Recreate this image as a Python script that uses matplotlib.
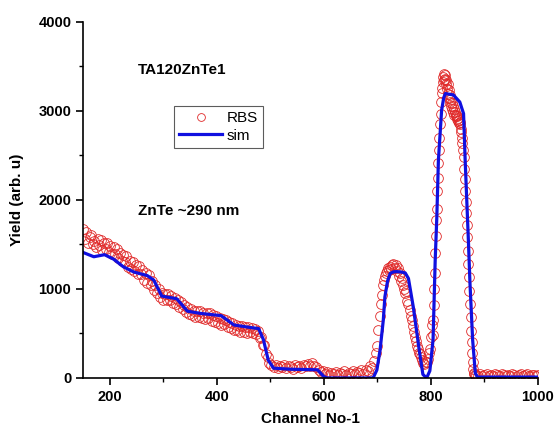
import numpy as np
import matplotlib.pyplot as plt

plt.rcParams['font.family'] = ['Liberation Sans', 'DejaVu Sans']

# RBS spectrum (channel grid per region, yields typed)
ch_a = np.arange(150, 499, 3)
y_a = [1670, 1560, 1635, 1515, 1585, 1610, 1500, 1540, 1475, 1565,
       1490, 1545, 1440, 1520, 1450, 1520, 1420, 1480, 1390, 1470,
       1390, 1450, 1345, 1405, 1310, 1385, 1300, 1365, 1250, 1310,
       1220, 1300, 1205, 1265, 1165, 1260, 1170, 1210, 1100, 1180,
       1070, 1160, 1045, 1085, 990, 1040, 955, 995, 915, 960,
       880, 945, 878, 942, 876, 920, 845, 898, 835, 875,
       800, 858, 775, 825, 740, 795, 720, 778, 710, 755,
       680, 747, 684, 751, 678, 725, 662, 728, 674, 728,
       640, 702, 633, 693, 615, 670, 594, 658, 602, 646,
       570, 631, 562, 613, 536, 600, 534, 589, 516, 583,
       520, 577, 504, 571, 518, 565, 502, 548, 490, 525,
       450, 460, 370, 370, 270, 240, 165]

ch_b = np.arange(502, 699, 4)
y_b = [150, 125, 150, 110, 140, 120, 150, 115, 140, 125,
       105, 145, 120, 135, 110, 150, 130, 160, 135, 165,
       140, 120, 95, 70, 75, 45, 65, 35, 55, 40,
       70, 30, 55, 45, 75, 35, 60, 50, 80, 40,
       65, 55, 85, 50, 90, 75, 130, 110, 190, 280]

ch_c = np.arange(700, 803, 2)
y_c = [360, 540, 700, 830, 930, 1040, 1100, 1150, 1180, 1200,
       1230, 1210, 1250, 1220, 1270, 1280, 1240, 1270, 1200, 1230,
       1150, 1180, 1090, 1120, 1040, 1000, 950, 980, 860, 830,
       760, 700, 650, 580, 520, 460, 410, 360, 320, 280,
       270, 230, 200, 170, 160, 180, 175, 210, 280, 320,
       460, 600]

ch_d = np.arange(803, 883, 1)
y_d = [480, 650, 820, 1000, 1180, 1400, 1600, 1780, 1900, 2100,
       2250, 2420, 2560, 2700, 2850, 2970, 3100, 3200, 3260, 3330,
       3380, 3350, 3420, 3360, 3400, 3300, 3350, 3250, 3300, 3190,
       3230, 3150, 3180, 3100, 3130, 3060, 3090, 3020, 3050, 2990,
       3020, 2960, 2990, 2940, 2960, 2910, 2940, 2890, 2920, 2870,
       2900, 2850, 2880, 2800, 2760, 2700, 2640, 2560, 2480, 2350,
       2230, 2100, 1980, 1850, 1720, 1580, 1430, 1280, 1130, 980,
       830, 680, 530, 400, 280, 180, 100, 60, 40, 30]

ch_e = np.arange(884, 1001, 4)
y_e = [35, 25, 40, 20, 30, 45, 25, 35, 20, 40,
       30, 25, 45, 30, 20, 35, 25, 40, 30, 20,
       35, 45, 25, 30, 40, 20, 35, 30, 25, 35]

rbs_ch = np.concatenate([ch_a, ch_b, ch_c, ch_d, ch_e])
rbs_y = np.concatenate([y_a, y_b, y_c, y_d, y_e])

# simulation curve
sim_ch = [150, 170, 190, 207, 225, 245, 270, 282, 297, 325,
          345, 370, 408, 432, 465, 478, 487, 496, 506, 537,
          588, 600, 606, 692, 699, 705, 711, 714, 719, 724,
          730, 736, 745, 752, 758, 767, 778, 785, 792, 798,
          804, 808, 811, 814, 820, 824, 827, 842, 854, 861,
          864, 870, 873, 878, 883, 887, 1000]
sim_y = [1410, 1362, 1385, 1335, 1250, 1190, 1150, 1100, 920, 890,
         750, 725, 700, 595, 565, 555, 430, 200, 110, 98,
         92, 15, 0, 0, 90, 314, 650, 912, 1090, 1175,
         1192, 1195, 1190, 1180, 1118, 800, 320, 40, 0, 80,
         430, 1324, 1800, 2447, 3008, 3150, 3195, 3180, 3100, 2970,
         2447, 1549, 1063, 426, 53, 10, 10]

fig = plt.figure(figsize=(5.54, 4.30), dpi=100)
ax = fig.add_axes([0.150, 0.121, 0.821, 0.828])

ax.plot(rbs_ch, rbs_y, 'o', ms=7, mfc='none', mec='#e02828', mew=0.6,
        label='RBS')
ax.plot(sim_ch, sim_y, '-', color='#1010e0', lw=2.3, label='sim')

ax.set_xlim(150, 1000)
ax.set_ylim(0, 4000)
ax.set_xticks([200, 400, 600, 800, 1000])
ax.set_xticks([300, 500, 700, 900], minor=True)
ax.set_yticks([0, 1000, 2000, 3000, 4000])
ax.set_yticks([500, 1500, 2500, 3500], minor=True)
ax.spines['top'].set_visible(False)
ax.spines['right'].set_visible(False)
for s in ('left', 'bottom'):
    ax.spines[s].set_linewidth(1.2)
ax.tick_params(which='major', direction='out', length=5, width=1.2,
               labelsize=10.5)
ax.tick_params(which='minor', direction='out', length=3, width=1.0)
for lab in ax.get_xticklabels() + ax.get_yticklabels():
    lab.set_fontweight('bold')

ax.set_xlabel('Channel No-1', fontsize=11, fontweight='bold', labelpad=6)
ax.set_ylabel('Yield (arb. u)', fontsize=11, fontweight='bold', labelpad=10)

ax.text(0.120, 0.865, 'TA120ZnTe1', transform=ax.transAxes,
        fontsize=11, fontweight='bold', va='center')
ax.text(0.120, 0.470, 'ZnTe ~290 nm', transform=ax.transAxes,
        fontsize=11, fontweight='bold', va='center')

leg = ax.legend(loc='upper left', bbox_to_anchor=(0.200, 0.765),
                fontsize=11, frameon=True, fancybox=False, markerscale=0.8,
                handlelength=2.8, borderpad=0.35, labelspacing=0.25,
                handletextpad=0.3, borderaxespad=0)
leg.get_frame().set_edgecolor('#333333')
leg.get_frame().set_linewidth(0.8)

fig.savefig('out.png', dpi=100)
